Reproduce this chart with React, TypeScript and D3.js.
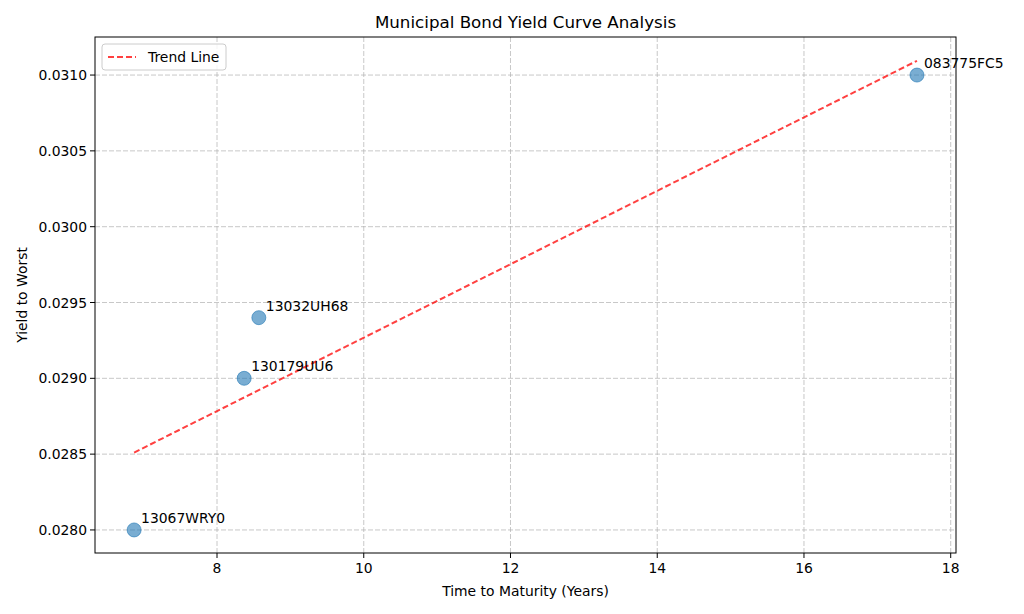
import React from "react";
import * as d3 from "d3";

const bondIds = ["13067WRY0", "130179UU6", "13032UH68", "083775FC5"];
const maturities = [6.87, 8.37, 8.57, 17.54];
const yields = [0.028, 0.029, 0.0294, 0.031];
const xTicks = [8, 10, 12, 14, 16, 18];
const yTicks = [0.028, 0.0285, 0.029, 0.0295, 0.03, 0.0305, 0.031];

const W = 1024, H = 614;
const M = { left: 95, right: 956, top: 37, bottom: 553 };
const FONT = "DejaVu Sans, sans-serif";

export default function App() {
  const x = d3.scaleLinear().domain([6.337, 18.072]).range([M.left, M.right]);
  const y = d3.scaleLinear().domain([0.027848, 0.031251]).range([M.bottom, M.top]);

  const mx = d3.mean(maturities)!;
  const my = d3.mean(yields)!;
  let sxy = 0, sxx = 0;
  maturities.forEach((v, i) => {
    sxy += (v - mx) * (yields[i] - my);
    sxx += (v - mx) * (v - mx);
  });
  const slope = sxy / sxx;
  const icpt = my - slope * mx;
  const x0 = d3.min(maturities)!, x1 = d3.max(maturities)!;
  const trend = d3.line<number>().x((d) => x(d)).y((d) => y(icpt + slope * d))([x0, x1])!;

  return (
    <svg width={W} height={H} style={{ position: "absolute", left: 0, top: 0 }} fontFamily={FONT}>
      <rect width={W} height={H} fill="white" />
      {xTicks.map((t) => (
        <line key={"gx" + t} x1={x(t)} x2={x(t)} y1={M.top} y2={M.bottom} stroke="#b0b0b0" strokeOpacity={0.7} strokeDasharray="5,2" strokeWidth={1} />
      ))}
      {yTicks.map((t) => (
        <line key={"gy" + t} x1={M.left} x2={M.right} y1={y(t)} y2={y(t)} stroke="#b0b0b0" strokeOpacity={0.7} strokeDasharray="5,2" strokeWidth={1} />
      ))}
      <path d={trend} stroke="#ff0000" strokeOpacity={0.75} strokeWidth={2} strokeDasharray="6,3" fill="none" />
      {maturities.map((m, i) => (
        <g key={bondIds[i]}>
          <circle cx={x(m)} cy={y(yields[i])} r={7} fill="#1f77b4" fillOpacity={0.6} stroke="#1f77b4" strokeOpacity={0.6} strokeWidth={1} />
          <text x={x(m) + 7} y={y(yields[i]) - 7} fontSize={13.9} fill="#000">{bondIds[i]}</text>
        </g>
      ))}
      <rect x={M.left} y={M.top} width={M.right - M.left} height={M.bottom - M.top} fill="none" stroke="#000" strokeWidth={1} />
      {xTicks.map((t) => (
        <g key={"tx" + t}>
          <line x1={x(t)} x2={x(t)} y1={M.bottom} y2={M.bottom + 5} stroke="#000" />
          <text x={x(t)} y={M.bottom + 20} fontSize={13.9} textAnchor="middle">{t}</text>
        </g>
      ))}
      {yTicks.map((t) => (
        <g key={"ty" + t}>
          <line x1={M.left - 5} x2={M.left} y1={y(t)} y2={y(t)} stroke="#000" />
          <text x={M.left - 8} y={y(t) + 5} fontSize={13.9} textAnchor="end">{t.toFixed(4)}</text>
        </g>
      ))}
      <text x={(M.left + M.right) / 2} y={28} fontSize={16.7} textAnchor="middle">Municipal Bond Yield Curve Analysis</text>
      <text x={(M.left + M.right) / 2} y={596} fontSize={13.9} textAnchor="middle">Time to Maturity (Years)</text>
      <text transform={`translate(27,${(M.top + M.bottom) / 2}) rotate(-90)`} fontSize={13.9} textAnchor="middle">Yield to Worst</text>
      <g>
        <rect x={102} y={44} width={124} height={26} rx={3} fill="white" fillOpacity={0.8} stroke="#cccccc" />
        <line x1={108} x2={136} y1={57} y2={57} stroke="#ff0000" strokeOpacity={0.75} strokeWidth={2} strokeDasharray="6,3" />
        <text x={148} y={62} fontSize={13.9}>Trend Line</text>
      </g>
    </svg>
  );
}
